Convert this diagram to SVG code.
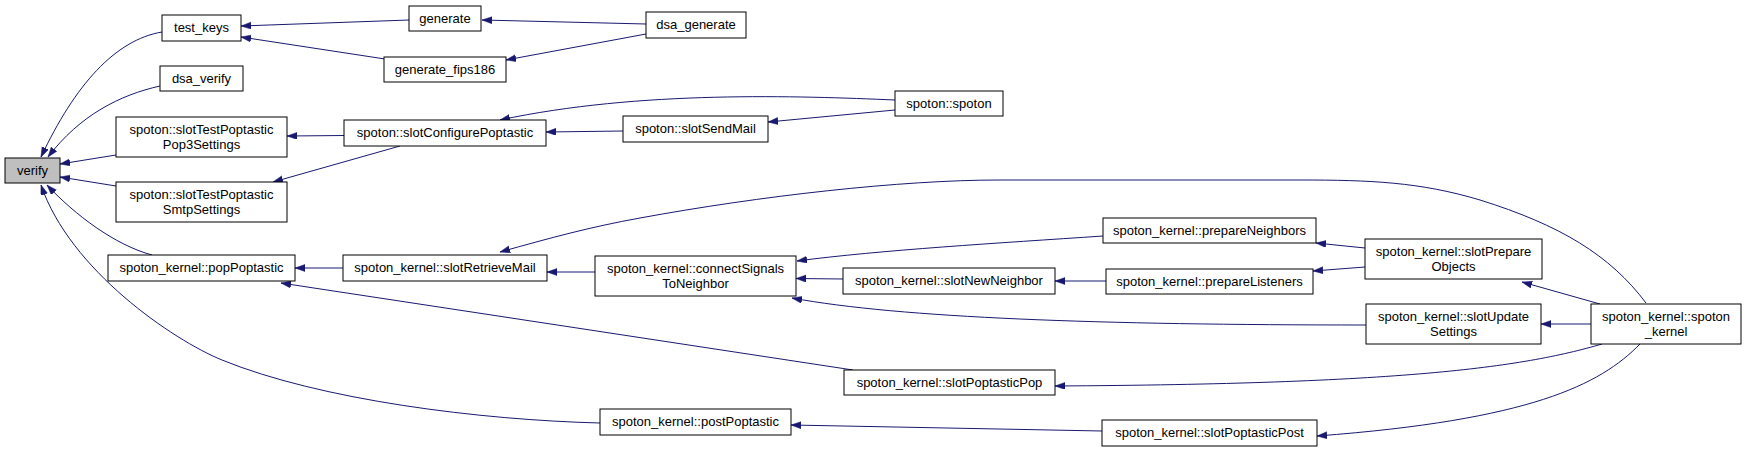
<svg xmlns="http://www.w3.org/2000/svg" width="1747" height="452" viewBox="0 0 1747 452">
<style>
.n rect{fill:#ffffff;stroke:#000000;stroke-width:1}
.n text{font-family:"Liberation Sans",Arial,sans-serif;font-size:13px;fill:#000000;text-anchor:middle}
.e path{fill:none;stroke:#191970;stroke-width:1;marker-end:url(#arr)}
</style>
<defs>
<marker id="arr" markerUnits="userSpaceOnUse" markerWidth="11" markerHeight="8" refX="10" refY="3.5" orient="auto">
<polygon points="0,0 10,3.5 0,7" fill="#191970" stroke="#191970" stroke-width="0.5"/>
</marker>
</defs>
<rect width="1747" height="452" fill="#ffffff"/>
<g class="e" id="edges">
<path d="M162,32 C115,40 75,85 41,157"/>
<path d="M160,86 C120,95 80,115 48,157"/>
<path d="M116,155 L60,164"/>
<path d="M116,186 L60,177"/>
<path d="M152,255 C115,245 75,215 47,185"/>
<path d="M600,423 C480,420 320,400 222,360 C173,340 70,270 41,185"/>
<path d="M409,20 L241,26"/>
<path d="M385,59 L241,37"/>
<path d="M344,135.5 L287,136"/>
<path d="M400,146 L273,182"/>
<path d="M343,268 L295,268"/>
<path d="M853,370 L281,283"/>
<path d="M646,24 L482,20"/>
<path d="M646,34 L506,60"/>
<path d="M623,131 L546,132"/>
<path d="M895,100 C800,96 640,90 500,120"/>
<path d="M895,110 L768,122"/>
<path d="M595,272 L547,272"/>
<path d="M1646,303 C1610,255 1560,225 1480,200 C1420,182 1370,180 1300,180 L1000,180 C900,180 760,196 640,218 C590,227 550,238 500,252"/>
<path d="M1103,236 C1000,243 880,250 797,261"/>
<path d="M843,279 L796,278.5"/>
<path d="M1366,325 C1100,325 900,318 792,298"/>
<path d="M1106,281 L1055,281"/>
<path d="M1365,248 L1316,243"/>
<path d="M1365,267 L1313,271"/>
<path d="M1600,304 L1522,282"/>
<path d="M1591,324 L1541,324"/>
<path d="M1602,344 C1520,368 1400,384 1055,386"/>
<path d="M1640,344 C1600,385 1530,420 1317,436"/>
<path d="M1102,431 L791,425"/>
</g>
<g class="n" id="n_verify"><rect x="5" y="158" width="55" height="25" style="fill:#bfbfbf"/><text x="32.5" y="174.5">verify</text></g>
<g class="n" id="n_test_keys"><rect x="162" y="15" width="79" height="26"/><text x="201.5" y="32">test_keys</text></g>
<g class="n" id="n_dsa_verify"><rect x="160" y="66" width="83" height="25"/><text x="201.5" y="82.5">dsa_verify</text></g>
<g class="n" id="n_pop3"><rect x="116" y="117" width="171" height="40"/><text x="201.5" y="134">spoton::slotTestPoptastic</text><text x="201.5" y="148.5">Pop3Settings</text></g>
<g class="n" id="n_smtp"><rect x="116" y="182" width="171" height="40"/><text x="201.5" y="199">spoton::slotTestPoptastic</text><text x="201.5" y="213.5">SmtpSettings</text></g>
<g class="n" id="n_popPoptastic"><rect x="108" y="255" width="187" height="26"/><text x="201.5" y="272">spoton_kernel::popPoptastic</text></g>
<g class="n" id="n_generate"><rect x="409" y="6" width="72" height="25"/><text x="445" y="22.5">generate</text></g>
<g class="n" id="n_generate_fips186"><rect x="384" y="57" width="122" height="25"/><text x="445" y="73.5">generate_fips186</text></g>
<g class="n" id="n_slotConfigurePoptastic"><rect x="344" y="120" width="202" height="26"/><text x="445" y="137">spoton::slotConfigurePoptastic</text></g>
<g class="n" id="n_slotRetrieveMail"><rect x="343" y="255" width="204" height="26"/><text x="445" y="272">spoton_kernel::slotRetrieveMail</text></g>
<g class="n" id="n_dsa_generate"><rect x="646" y="12" width="100" height="26"/><text x="696" y="29">dsa_generate</text></g>
<g class="n" id="n_slotSendMail"><rect x="623" y="116" width="145" height="26"/><text x="695.5" y="133">spoton::slotSendMail</text></g>
<g class="n" id="n_spoton"><rect x="895" y="91" width="108" height="25"/><text x="949" y="107.5">spoton::spoton</text></g>
<g class="n" id="n_connectSignals"><rect x="595" y="256" width="201" height="40"/><text x="695.5" y="273">spoton_kernel::connectSignals</text><text x="695.5" y="287.5">ToNeighbor</text></g>
<g class="n" id="n_postPoptastic"><rect x="600" y="409" width="191" height="26"/><text x="695.5" y="426">spoton_kernel::postPoptastic</text></g>
<g class="n" id="n_slotNewNeighbor"><rect x="843" y="268" width="212" height="26"/><text x="949" y="285">spoton_kernel::slotNewNeighbor</text></g>
<g class="n" id="n_slotPoptasticPop"><rect x="844" y="370" width="211" height="25"/><text x="949.5" y="386.5">spoton_kernel::slotPoptasticPop</text></g>
<g class="n" id="n_prepareNeighbors"><rect x="1103" y="218" width="213" height="25"/><text x="1209.5" y="234.5">spoton_kernel::prepareNeighbors</text></g>
<g class="n" id="n_prepareListeners"><rect x="1106" y="269" width="207" height="25"/><text x="1209.5" y="285.5">spoton_kernel::prepareListeners</text></g>
<g class="n" id="n_slotPoptasticPost"><rect x="1102" y="420" width="215" height="26"/><text x="1209.5" y="437">spoton_kernel::slotPoptasticPost</text></g>
<g class="n" id="n_slotPrepareObjects"><rect x="1365" y="239" width="177" height="40"/><text x="1453.5" y="256">spoton_kernel::slotPrepare</text><text x="1453.5" y="270.5">Objects</text></g>
<g class="n" id="n_slotUpdateSettings"><rect x="1366" y="304" width="175" height="40"/><text x="1453.5" y="321">spoton_kernel::slotUpdate</text><text x="1453.5" y="335.5">Settings</text></g>
<g class="n" id="n_spoton_kernel"><rect x="1591" y="304" width="150" height="40"/><text x="1666" y="321">spoton_kernel::spoton</text><text x="1666" y="335.5">_kernel</text></g>
</svg>
